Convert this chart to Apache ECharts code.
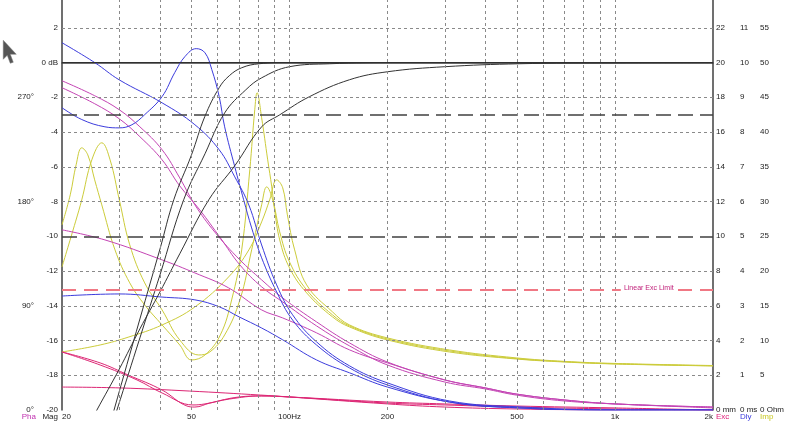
<!DOCTYPE html>
<html>
<head>
<meta charset="utf-8">
<script src="https://cdn.jsdelivr.net/npm/echarts@6/dist/echarts.min.js"></script>
<style>
html,body{margin:0;padding:0;background:#fff;}
#c{width:800px;height:434px;}
</style>
</head>
<body>
<div id="c"></div>
<script>
// ---- tick / grid values ----
const freqGrid = [30,40,50,60,70,80,90,100,200,300,400,500,600,700,800,900,1000];
const dbGrid = [-18,-16,-14,-12,-8,-6,-4,-2,2];
const freqLabels = [20,50,100,200,500,1000,2000];
const linearExcLimit = 6.9; // mm

// ---- Magnitude (dB) ----
const magA = [[25,-24.2],[28.9,-20],[34.7,-14.76],[40,-10.73],[44.1,-7.9],[50,-5.31],[54.9,-3.12],[60.8,-1.45],[65.3,-0.76],[71.3,-0.3],[80.6,-0.07],[100,0],[2000,0]];
const magB = [[25,-24.2],[29.5,-20],[34.7,-15.85],[40,-12.22],[47.3,-7.9],[55,-5.25],[63.2,-2.9],[73.4,-1.57],[82.1,-0.88],[100,-0.24],[132.8,-0.07],[217,0],[2000,0]];
const magC = [[22,-22.3],[25.6,-20],[30,-17.64],[34.7,-15.33],[40,-13.2],[46,-11.01],[56.5,-7.9],[67.9,-5.94],[82.1,-3.7],[93.3,-3.01],[115,-1.97],[152.9,-0.99],[200,-0.53],[300,-0.24],[508,-0.07],[1000,-0.02],[2000,0]];

// ---- Group delay (ms) ----
const dlyA = [[20,10.57],[25.2,10.0],[30,9.5],[40.6,8.84],[51.2,8.21],[60.8,7.49],[67.9,6.71],[75,5.9],[82.1,4.75],[91.3,3.6],[102.2,2.74],[121.1,1.96],[152.9,1.27],[200,0.78],[310,0.26],[508,0.09],[1000,0],[2000,0]];
const dlyB = [[20,8.70],[23,8.36],[27.1,8.15],[30,8.12],[32.8,8.21],[35.9,8.5],[40.6,9.02],[44.4,9.71],[47.7,10.17],[51.7,10.40],[55,10.28],[57.7,9.8],[60.8,9.02],[63.2,8.15],[67.9,7.0],[72.3,6.05],[76.5,5.24],[82.1,4.38],[91.3,3.4],[102.2,2.59],[121.1,1.87],[152.9,1.21],[200,0.72],[310,0.23],[508,0.06],[1000,0],[2000,0]];
const dlyC = [[20,3.28],[30,3.34],[40.6,3.25],[51.2,3.17],[60.8,2.97],[70,2.68],[82.1,2.36],[95.3,2.02],[121.1,1.44],[152.9,1.07],[200,0.66],[310,0.23],[508,0.06],[1000,0],[2000,0]];

// ---- Excursion (mm) ----
const excA = [[20,18.95],[25.2,18.09],[30,17.28],[34.7,16.30],[40.6,14.98],[46,13.36],[51.2,11.81],[58.9,10.25],[70.4,8.64],[82.1,7.49],[95.3,6.45],[121.1,5.07],[152.9,3.86],[200,2.76],[300,1.73],[400,1.27],[497,0.92],[698,0.58],[1000,0.35],[2000,0.17]];
const excB = [[20,18.55],[25.2,17.63],[30,16.76],[34.7,15.73],[40.6,14.40],[46,12.90],[53,11.52],[61.3,9.91],[70.4,8.35],[82.1,7.09],[95.3,6.22],[121.1,4.84],[152.9,3.69],[200,2.59],[300,1.61],[400,1.21],[497,0.86],[698,0.52],[1000,0.35],[2000,0.12]];
const excC = [[20,10.37],[27.1,9.79],[40.6,8.64],[51.2,7.89],[65,7.03],[82.1,5.76],[95.3,5.30],[121.1,4.44],[152.9,3.46],[200,2.71],[300,1.73],[400,1.27],[497,0.92],[698,0.58],[1000,0.35],[2000,0.17]];
const excD = [[20,3.34],[26.2,2.71],[31.9,2.02],[40.6,1.15],[48.4,0.23],[51.2,0.17],[56.9,0.40],[70,0.75],[82.1,0.81],[100,0.75],[200,0.40],[300,0.29],[497,0.17],[1000,0.06],[2000,0]];
const excE = [[20,3.34],[26.2,2.59],[34,1.73],[40.6,0.98],[50.5,0.29],[55,0.35],[65.3,0.63],[82.1,0.81],[100,0.75],[200,0.46],[300,0.35],[497,0.23],[1000,0.12],[2000,0]];
const excF = [[20,1.32],[30.2,1.27],[49.4,1.09],[81.4,0.86],[100,0.75],[200,0.35],[300,0.17],[497,0.06],[1000,0],[2000,0]];

// ---- Impedance (Ohm) ----
const impA = [[20,26.64],[21.2,30.96],[22.1,35.28],[23,37.73],[24,36.72],[25.2,33.12],[26.5,29.52],[29.1,23.04],[32.3,18.29],[35.9,15.12],[40.6,12.24],[46,9.36],[50,7.2],[55,7.92],[61.3,10.8],[66.4,15.84],[71.3,23.04],[75.5,34.56],[78.2,43.2],[79.5,45.65],[82.1,42.05],[85.7,36.0],[88.2,32.11],[90,28.8],[93.3,24.48],[100,20.45],[112.9,16.85],[135.6,13.39],[152.9,11.95],[200,10.08],[310,8.35],[497,7.34],[698,6.91],[1000,6.62],[2000,6.34]];
const impB = [[20,20.59],[22,27.07],[23,30.24],[24.7,36.0],[26.5,38.45],[28.1,36.0],[30,30.24],[32.3,23.76],[35.9,18.29],[40.6,14.4],[46,10.08],[52.6,7.92],[56.9,8.35],[63.2,10.8],[70.4,15.84],[76.5,23.04],[82.1,29.52],[85.1,32.11],[88.8,30.24],[93.3,25.63],[100,21.31],[112.9,17.28],[135.6,13.68],[152.9,12.1],[200,10.22],[310,8.5],[497,7.4],[698,6.95],[1000,6.65],[2000,6.36]];
const impC = [[20,8.35],[26.2,9.36],[32.1,10.51],[40.6,12.24],[51.2,14.83],[65,19.15],[75,23.04],[82.1,27.07],[86.9,30.24],[91.3,33.12],[95.3,31.97],[98.5,28.08],[103.7,23.04],[112.9,18.0],[135.6,14.11],[152.9,12.24],[200,10.37],[310,8.64],[497,7.5],[698,7.0],[1000,6.7],[2000,6.4]];

const FONT = 'Liberation Sans';
const TXT = '#222';
const AX = '#404040';
const BLACK = '#333333', BLUE = '#3c3cdc', MAG = '#c444b4', PINK = '#dc2674', YEL = '#cccc3a';

function curve(name, data, yIdx, color) {
  return { name, type:'line', data, xAxisIndex:0, yAxisIndex:yIdx, showSymbol:false,
    smooth:0.4, lineStyle:{color, width:1}, itemStyle:{color}, z:3, silent:true };
}
function onlyInt(v, max){ return (Math.abs(v-Math.round(v))<1e-6 && v<=max); }
function nameStyle(color, align, pad){
  return {fontSize:8, fontFamily:FONT, color, align, verticalAlign:'top', padding:pad};
}

const chart = echarts.init(document.getElementById('c'), null, {renderer:'canvas'});
chart.setOption({
  animation:false,
  backgroundColor:'#fff',
  grid:{left:62, right:87, top:0, bottom:24},
  xAxis:{type:'log', logBase:10, min:20, max:2000,
    axisLine:{show:true, lineStyle:{color:AX, width:1.5}},
    axisTick:{show:false}, splitLine:{show:false},
    axisLabel:{show:true, customValues:freqLabels, alignMinLabel:'left', alignMaxLabel:'right',
      fontSize:8, fontFamily:FONT, color:TXT, margin:3,
      formatter:function(v){ v=Math.round(v); if(v===100) return '100Hz'; if(v===1000) return '1k'; if(v===2000) return '2k'; return String(v);} }
  },
  yAxis:[
    {type:'value', min:-20, max:3.6, interval:2, position:'left',
      name:'Mag', nameLocation:'start', nameGap:3, nameMoveOverlap:false,
      nameTextStyle:nameStyle(TXT,'right',[0,4,0,0]),
      axisLine:{show:true, lineStyle:{color:AX, width:1.5}}, axisTick:{show:false}, splitLine:{show:false},
      axisLabel:{fontSize:8, fontFamily:FONT, color:TXT, margin:4,
        formatter:function(v){ if(Math.abs(v)<1e-6) return '0 dB'; return onlyInt(v,2)?String(Math.round(v)):''; }}},
    {type:'value', min:0, max:354, interval:90, position:'left', offset:24,
      name:'Pha', nameLocation:'start', nameGap:3, nameMoveOverlap:false,
      nameTextStyle:nameStyle('#c030b0','right',[0,2,0,0]),
      axisLine:{show:false}, axisTick:{show:false}, splitLine:{show:false},
      axisLabel:{fontSize:8, fontFamily:FONT, color:TXT, margin:4,
        formatter:function(v){ return (v%90===0 && v<=270)? (v+'°') : ''; }}},
    {type:'value', min:0, max:23.6, interval:2, position:'right', offset:0,
      name:'Exc', nameLocation:'start', nameGap:3, nameMoveOverlap:false,
      nameTextStyle:nameStyle('#e0207a','left',[0,0,0,3]),
      axisLine:{show:true, lineStyle:{color:AX, width:1.5}}, axisTick:{show:false}, splitLine:{show:false},
      axisLabel:{fontSize:8, fontFamily:FONT, color:TXT, margin:3,
        formatter:function(v){ if(v===0) return '0 mm'; return onlyInt(v,22)?String(Math.round(v)):''; }}},
    {type:'value', min:0, max:11.8, interval:1, position:'right', offset:24,
      name:'Dly', nameLocation:'start', nameGap:3, nameMoveOverlap:false,
      nameTextStyle:nameStyle(BLUE,'left',[0,0,0,3]),
      axisLine:{show:false}, axisTick:{show:false}, splitLine:{show:false},
      axisLabel:{fontSize:8, fontFamily:FONT, color:TXT, margin:3,
        formatter:function(v){ if(v===0) return '0 ms'; return onlyInt(v,11)?String(Math.round(v)):''; }}},
    {type:'value', min:0, max:59, interval:5, position:'right', offset:44,
      name:'Imp', nameLocation:'start', nameGap:3, nameMoveOverlap:false,
      nameTextStyle:nameStyle('#c8c820','left',[0,0,0,3]),
      axisLine:{show:false}, axisTick:{show:false}, splitLine:{show:false},
      axisLabel:{fontSize:8, fontFamily:FONT, color:TXT, margin:3,
        formatter:function(v){ if(v===0) return '0 Ohm'; return onlyInt(v,55)?String(Math.round(v)):''; }}}
  ],
  graphic:[{type:'polygon', left:3, top:40, z:100,
    shape:{points:[[0,0],[0,19],[4,15],[7,23],[10,22],[7,14],[13,14]]},
    style:{fill:'#555', stroke:'#777', lineWidth:0.5}}],
  series:[
    {type:'line', data:[], xAxisIndex:0, yAxisIndex:0, z:1, silent:true,
      markLine:{silent:true, symbol:['none','none'], label:{show:false},
        lineStyle:{color:'#8a8a8a', type:[3,3], width:1},
        data:[].concat(freqGrid.map(f=>({xAxis:f})), dbGrid.map(v=>({yAxis:v})))}},
    {type:'line', data:[], xAxisIndex:0, yAxisIndex:0, z:2, silent:true,
      markLine:{silent:true, symbol:['none','none'], label:{show:false},
        data:[
          {yAxis:0, lineStyle:{color:'#303030', type:'solid', width:1.2}},
          {yAxis:-3, lineStyle:{color:'#404040', type:[15,7], width:1.6}},
          {yAxis:-10, lineStyle:{color:'#404040', type:[15,7], width:1.6}}
        ]}},
    {type:'line', data:[], xAxisIndex:0, yAxisIndex:2, z:2, silent:true,
      markLine:{silent:true, symbol:['none','none'], label:{show:false},
        data:[{yAxis:linearExcLimit, lineStyle:{color:'#f07884', type:[14,8], width:2}}]},
      markPoint:{silent:true, data:[{coord:[1270, linearExcLimit], symbol:'rect', symbolSize:[56,8],
        itemStyle:{color:'#fff'},
        label:{show:true, formatter:'Linear Exc Limit', fontSize:7, fontFamily:FONT, color:'#c0207a', offset:[0,-2]}}]}},
    curve('Imp A', impA, 4, YEL),
    curve('Imp B', impB, 4, YEL),
    curve('Imp C', impC, 4, YEL),
    curve('Exc A', excA, 2, MAG),
    curve('Exc B', excB, 2, MAG),
    curve('Exc C', excC, 2, MAG),
    curve('Exc D', excD, 2, PINK),
    curve('Exc E', excE, 2, PINK),
    curve('Exc F', excF, 2, PINK),
    curve('Dly A', dlyA, 3, BLUE),
    curve('Dly B', dlyB, 3, BLUE),
    curve('Dly C', dlyC, 3, BLUE),
    curve('Mag A', magA, 0, BLACK),
    curve('Mag B', magB, 0, BLACK),
    curve('Mag C', magC, 0, BLACK)
  ]
});
</script>
</body>
</html>
